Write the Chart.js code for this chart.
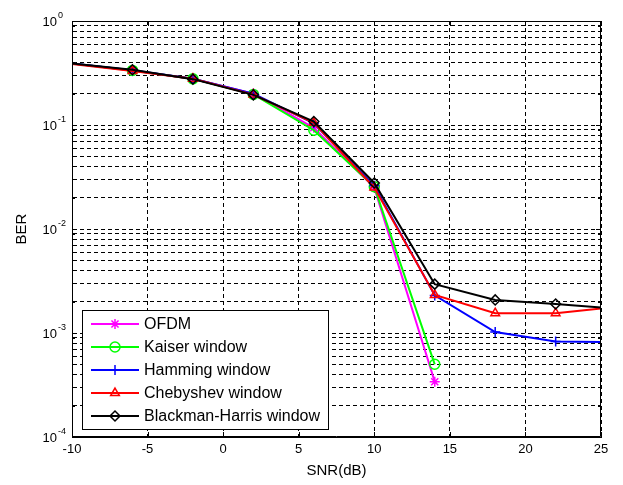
<!DOCTYPE html>
<html>
<head>
<meta charset="utf-8">
<script src="https://cdn.jsdelivr.net/npm/chart.js@4.4.1/dist/chart.umd.min.js"></script>
<style>
  html, body { margin: 0; padding: 0; background: #fff; }
  #wrap { width: 623px; height: 485px; position: relative; }
</style>
</head>
<body>
<div id="wrap"><canvas id="berChart"></canvas></div>
<script>
// SNR sweep (dB)
var snr = [-10, -6, -2, 2, 6, 10, 14, 18, 22, 25];

// BER for each scheme
var berOfdm = [0.39, 0.335, 0.278, 0.2, 0.094, 0.025, 0.00034];
var berKaiser = [0.39, 0.335, 0.278, 0.197, 0.089, 0.0255, 0.0005];
var berHamming = [0.39, 0.336, 0.279, 0.2, 0.104, 0.026, 0.0023, 0.00102, 0.00083, 0.00082];
var berCheby = [0.385, 0.33, 0.279, 0.196, 0.105, 0.025, 0.00232, 0.00155, 0.00155, 0.00172];
var berBlackman = [0.39, 0.34, 0.276, 0.195, 0.108, 0.0277, 0.00295, 0.00208, 0.0019, 0.00176];

var seriesNames = ["OFDM", "Kaiser window", "Hamming window", "Chebyshev window", "Blackman-Harris window"];
var seriesData = [berOfdm, berKaiser, berHamming, berCheby, berBlackman];
var seriesColors = ["#ff00ff", "#00ff00", "#0000ff", "#ff0000", "#000000"];
var seriesMarkers = ["star", "circle", "cross", "triangle", "rectRot"];

// axis ticks
var xTicks = [-10, -5, 0, 5, 10, 15, 20, 25];
var yDecades = [-4, -3, -2, -1, 0];
var yMinor = [2, 3, 4, 5, 6, 7, 8, 9];

var fontFam = "'Liberation Sans', Arial, sans-serif";

function toPoints(vals) {
  var pts = [];
  for (var i = 0; i < vals.length; i++) {
    pts.push({ x: snr[i], y: vals[i] });
  }
  return pts;
}

function yTickValues() {
  var out = [];
  for (var i = 0; i < yDecades.length; i++) {
    var base = Math.pow(10, yDecades[i]);
    out.push(base);
    if (i < yDecades.length - 1) {
      for (var j = 0; j < yMinor.length; j++) out.push(yMinor[j] * base);
    }
  }
  return out;
}

// no marker at the ends of the sweep
function markerSize(ctx) {
  if (!ctx.raw) return 0;
  if (ctx.raw.x === -10 || ctx.raw.x === 25) return 0;
  return 5;
}

var datasets = [];
for (var i = 0; i < seriesNames.length; i++) {
  datasets.push({
    label: seriesNames[i],
    data: toPoints(seriesData[i]),
    showLine: true,
    borderColor: seriesColors[i],
    backgroundColor: "rgba(0,0,0,0)",
    borderWidth: 2,
    pointStyle: seriesMarkers[i],
    pointRadius: markerSize,
    pointHoverRadius: markerSize,
    pointBorderWidth: 1.5,
    pointBorderColor: seriesColors[i],
    pointBackgroundColor: "rgba(0,0,0,0)",
    order: seriesNames.length - i,
  });
}

// y labels as 10 with a raised exponent
var powerLabels = {
  id: "powerLabels",
  afterDraw: function (chart) {
    var ctx = chart.ctx;
    var y = chart.scales.y;
    ctx.save();
    ctx.fillStyle = "#000";
    ctx.textBaseline = "middle";
    for (var i = 0; i < yDecades.length; i++) {
      var py = y.getPixelForValue(Math.pow(10, yDecades[i]));
      ctx.font = "13px " + fontFam;
      ctx.textAlign = "right";
      ctx.fillText("10", 57, py + 1);
      ctx.font = "9px " + fontFam;
      ctx.textAlign = "left";
      ctx.fillText(String(yDecades[i]), 58, py - 5);
    }
    ctx.restore();
  },
};

// box around the axes with inward ticks
var axesFrame = {
  id: "axesFrame",
  afterDraw: function (chart) {
    var ctx = chart.ctx;
    var a = chart.chartArea;
    var xs = chart.scales.x;
    var ys = chart.scales.y;
    ctx.save();
    ctx.strokeStyle = "#000";
    ctx.lineWidth = 1;
    ctx.beginPath();
    ctx.rect(a.left + 0.5, a.top + 0.5, a.right - a.left - 1, a.bottom - a.top - 1);
    for (var i = 0; i < xTicks.length; i++) {
      var px = Math.round(xs.getPixelForValue(xTicks[i])) + 0.5;
      ctx.moveTo(px, a.bottom);
      ctx.lineTo(px, a.bottom - 5);
      ctx.moveTo(px, a.top);
      ctx.lineTo(px, a.top + 5);
    }
    var yv = yTickValues();
    for (var j = 0; j < yv.length; j++) {
      var py = Math.round(ys.getPixelForValue(yv[j])) + 0.5;
      var len = Math.abs(Math.log10(yv[j]) % 1) < 1e-9 ? 5 : 3;
      ctx.moveTo(a.left, py);
      ctx.lineTo(a.left + len, py);
      ctx.moveTo(a.right, py);
      ctx.lineTo(a.right - len, py);
    }
    ctx.stroke();
    ctx.restore();
  },
};

function drawMarker(ctx, style, x, y, r) {
  if (Chart.helpers && Chart.helpers.drawPoint) {
    Chart.helpers.drawPoint(ctx, { pointStyle: style, radius: r, borderWidth: 1.5, rotation: 0 }, x, y);
  }
}

// legend in the lower left of the plot
var legendBox = {
  id: "legendBox",
  afterDraw: function (chart) {
    var ctx = chart.ctx;
    var a = chart.chartArea;
    ctx.save();
    ctx.font = "16px " + fontFam;
    var maxW = 0;
    for (var i = 0; i < seriesNames.length; i++) {
      maxW = Math.max(maxW, ctx.measureText(seriesNames[i]).width);
    }
    var rowH = 23;
    var w = 62 + maxW + 8;
    var h = 14 + rowH * (seriesNames.length - 1) + 13;
    var left = a.left + 10;
    var top = a.bottom - 8 - h;
    ctx.fillStyle = "#fff";
    ctx.fillRect(left, top, w, h);
    ctx.strokeStyle = "#000";
    ctx.lineWidth = 1;
    ctx.strokeRect(Math.round(left) + 0.5, Math.round(top) + 0.5, Math.round(w), Math.round(h));

    for (var k = 0; k < seriesNames.length; k++) {
      var cy = top + 14 + k * rowH;
      ctx.strokeStyle = seriesColors[k];
      ctx.lineWidth = 2;
      ctx.beginPath();
      ctx.moveTo(left + 9, cy);
      ctx.lineTo(left + 57, cy);
      ctx.stroke();
      ctx.lineWidth = 1.5;
      ctx.fillStyle = "rgba(0,0,0,0)";
      drawMarker(ctx, seriesMarkers[k], left + 33, cy, 5);
      ctx.fillStyle = "#000";
      ctx.textAlign = "left";
      ctx.textBaseline = "middle";
      ctx.fillText(seriesNames[k], left + 62, cy + 1);
    }
    ctx.restore();
  },
};

var ctx = document.getElementById("berChart").getContext("2d");
new Chart(ctx, {
  type: "scatter",
  data: { datasets: datasets },
  plugins: [powerLabels, axesFrame, legendBox],
  options: {
    responsive: true,
    maintainAspectRatio: false,
    animation: false,
    layout: { padding: { top: 21, right: 22, left: 0, bottom: 0 } },
    plugins: {
      legend: { display: false },
      tooltip: { enabled: false },
    },
    scales: {
      x: {
        type: "linear",
        min: -10,
        max: 25,
        afterBuildTicks: function (scale) {
          scale.ticks = xTicks.map(function (v) { return { value: v }; });
        },
        afterFit: function (scale) { scale.height = 48; },
        ticks: {
          color: "#000",
          padding: 5,
          maxRotation: 0,
          autoSkip: false,
          font: { family: fontFam, size: 13 },
        },
        grid: { color: "#000", lineWidth: 1, drawTicks: false },
        border: { display: true, color: "#000", width: 1, dash: [4, 3] },
        title: {
          display: true,
          text: "SNR(dB)",
          color: "#000",
          font: { family: fontFam, size: 15 },
          padding: { top: 0, bottom: 5 },
        },
      },
      y: {
        type: "logarithmic",
        min: 1e-4,
        max: 1,
        afterBuildTicks: function (scale) {
          scale.ticks = yTickValues().map(function (v) { return { value: v }; });
        },
        afterFit: function (scale) { scale.width = 72; },
        ticks: { display: false },
        grid: { color: "#000", lineWidth: 1, drawTicks: false },
        border: { display: true, color: "#000", width: 1, dash: [4, 3] },
        title: {
          display: true,
          text: "BER",
          color: "#000",
          font: { family: fontFam, size: 15 },
          padding: { top: 13, bottom: 0 },
        },
      },
    },
  },
});
</script>
</body>
</html>
